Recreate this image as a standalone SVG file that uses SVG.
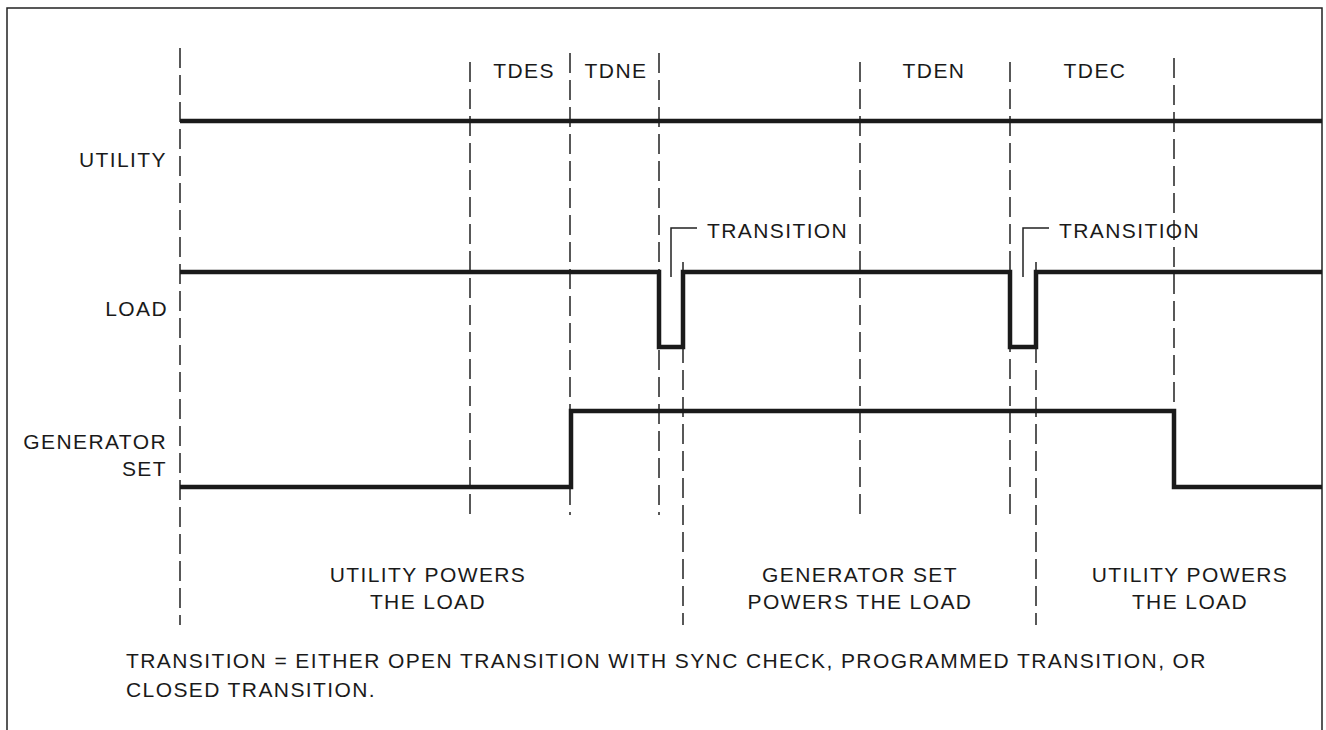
<svg xmlns="http://www.w3.org/2000/svg" width="1326" height="730" viewBox="0 0 1326 730">
<style>
  text { font-family: "Liberation Sans", Arial, sans-serif; font-size: 21px; fill: #1a1a1a; letter-spacing: 1.4px; }
  .dash { stroke: #222; stroke-width: 1.5; stroke-dasharray: 20 7; fill: none; }
  .sig { stroke: #1a1a1a; stroke-width: 4.5; fill: none; stroke-linejoin: miter; }
  .thin { stroke: #222; stroke-width: 1.5; fill: none; }
  .end { text-anchor: end; }
  .mid { text-anchor: middle; }
</style>
<rect width="1326" height="730" fill="#fff"/>
<g id="frame">
  <path class="thin" d="M7 730 V8 H1322 V730"/>
</g>
<g id="gridlines">
  <line class="dash" x1="180" y1="48" x2="180" y2="625"/>
  <line class="dash" x1="470" y1="62" x2="470" y2="517"/>
  <line class="dash" x1="570" y1="53" x2="570" y2="515"/>
  <line class="dash" x1="659" y1="53" x2="659" y2="515"/>
  <line class="dash" x1="683" y1="262" x2="683" y2="625"/>
  <line class="dash" x1="860" y1="62" x2="860" y2="515"/>
  <line class="dash" x1="1010" y1="62" x2="1010" y2="515"/>
  <line class="dash" x1="1036" y1="262" x2="1036" y2="625"/>
  <line class="dash" x1="1174" y1="58" x2="1174" y2="411"/>
</g>
<g id="interval-labels">
  <text class="mid" x="524" y="78">TDES</text>
  <text class="mid" x="616" y="78">TDNE</text>
  <text class="mid" x="934" y="78">TDEN</text>
  <text class="mid" x="1095" y="78">TDEC</text>
</g>
<g id="utility">
  <text class="end" x="167" y="167">UTILITY</text>
  <path class="sig" d="M180 121 H1322"/>
</g>
<g id="load">
  <text class="end" x="168" y="316">LOAD</text>
  <path class="sig" d="M180 272 H659 V347 H683 V272 H1010 V347 H1036 V272 H1322"/>
</g>
<g id="generator-set">
  <text class="end" x="167" y="449">GENERATOR</text>
  <text class="end" x="167" y="476">SET</text>
  <path class="sig" d="M180 487 H571 V411 H1174 V487 H1322"/>
</g>
<g id="transition-1">
  <path class="thin" d="M671 277 V228 H697"/>
  <text x="707" y="238">TRANSITION</text>
</g>
<g id="transition-2">
  <path class="thin" d="M1023 277 V228 H1049"/>
  <text x="1059" y="238">TRANSITION</text>
</g>
<g id="phase-1">
  <text class="mid" x="428" y="582">UTILITY POWERS</text>
  <text class="mid" x="428" y="609">THE LOAD</text>
</g>
<g id="phase-2">
  <text class="mid" x="860" y="582">GENERATOR SET</text>
  <text class="mid" x="860" y="609">POWERS THE LOAD</text>
</g>
<g id="phase-3">
  <text class="mid" x="1190" y="582">UTILITY POWERS</text>
  <text class="mid" x="1190" y="609">THE LOAD</text>
</g>
<g id="note">
  <text x="126" y="668">TRANSITION = EITHER OPEN TRANSITION WITH SYNC CHECK, PROGRAMMED TRANSITION, OR</text>
  <text x="126" y="697">CLOSED TRANSITION.</text>
</g>
</svg>
